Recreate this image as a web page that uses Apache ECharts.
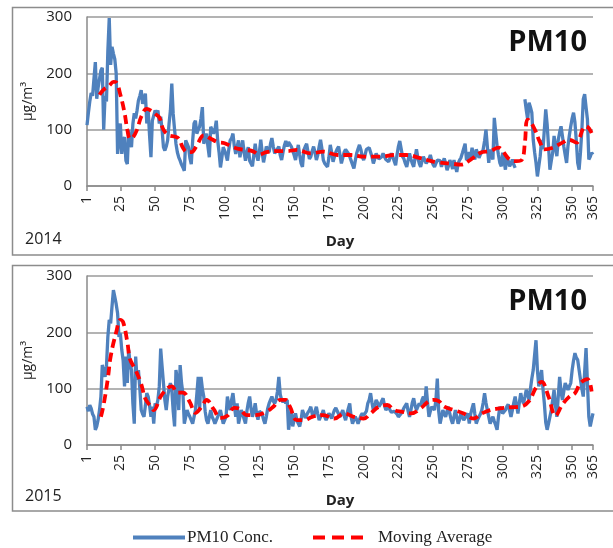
<!DOCTYPE html>
<html><head><meta charset="utf-8">
<script src="https://cdn.jsdelivr.net/npm/echarts@6/dist/echarts.min.js"></script>
<style>html,body{margin:0;padding:0;background:#fff}#c{width:613px;height:548px}</style>
</head><body><div id="c"></div>
<script>
// Daily PM10 concentrations (µg/m³), day 1..365
const pm2014 = [
108,130,150,165,160,190,220,155,175,190,205,210,100,160,150,240,298,215,247,235,225,200,57,81,111,
57,80,87,45,39,99,80,69,110,129,120,134,152,160,170,146,155,164,111,134,90,51,116,125,134,
130,134,111,123,100,69,63,70,81,110,134,182,128,100,75,60,51,45,38,33,27,81,75,69,50,
39,80,111,116,93,100,105,120,140,75,85,93,70,51,105,100,93,100,116,81,60,33,50,69,63,
55,45,65,81,85,93,70,57,70,81,51,65,81,60,45,60,69,45,40,35,33,75,55,45,60,
82,60,42,55,70,65,60,75,85,70,58,62,66,70,55,46,60,72,80,70,78,74,70,62,55,
46,60,73,55,40,34,64,70,75,60,48,52,62,70,60,46,55,70,82,66,46,40,38,34,50,
73,60,43,52,60,66,70,55,40,50,60,65,62,58,52,45,38,31,45,58,66,73,65,52,46,
55,65,66,68,66,52,40,48,58,52,48,46,52,58,52,47,44,43,50,58,52,44,37,55,70,
80,66,52,48,40,34,46,58,48,40,34,50,65,50,40,34,44,52,46,40,38,48,55,45,38,
34,40,46,49,45,34,42,49,40,28,35,46,40,30,46,35,25,40,46,50,58,55,75,46,50,
60,50,68,55,47,65,58,50,56,60,65,80,100,70,41,65,55,47,121,95,71,55,41,35,59,
45,29,53,45,35,40,47,38,32,null,null,null,null,null,null,154,135,118,148,140,130,82,60,41,17,
35,53,82,65,100,136,110,71,29,45,59,89,70,53,82,95,106,89,70,55,41,71,90,106,120,
130,113,80,41,29,60,100,154,163,140,118,47,52,59,56
];
const pm2015 = [
68,60,71,65,55,50,27,33,45,62,86,142,133,121,140,192,222,216,246,275,263,250,234,192,198,
169,150,104,157,110,169,145,133,74,38,157,116,133,100,62,55,50,70,92,86,70,50,68,38,74,
68,80,104,171,140,110,80,62,86,100,110,98,60,33,133,116,62,142,110,92,38,50,62,55,50,
44,38,50,62,90,121,62,121,100,86,60,44,38,50,62,50,45,38,40,50,56,62,50,38,44,
50,86,70,62,80,92,70,50,74,38,50,62,55,46,38,60,75,86,65,50,60,74,55,45,60,
62,55,45,38,50,65,74,80,86,78,74,80,95,121,90,80,76,80,74,80,27,45,62,33,45,
56,44,38,33,45,62,55,48,50,58,62,68,55,50,60,68,55,44,50,55,62,50,44,50,56,
52,47,55,62,66,68,55,50,56,62,52,44,55,65,74,50,38,45,50,45,38,45,52,56,52,
50,60,74,80,92,75,62,70,80,75,68,72,78,83,70,62,65,68,62,58,56,60,62,55,50,
52,56,60,66,70,74,60,50,62,75,83,70,62,68,74,70,80,86,70,104,75,50,60,68,65,
62,80,118,60,38,50,62,55,50,60,68,55,45,38,50,62,50,38,45,56,50,44,48,52,56,
38,55,65,74,55,38,45,50,55,62,75,92,75,62,50,38,45,50,42,35,27,50,68,62,56,
56,62,68,72,74,50,62,75,86,70,56,75,92,80,74,85,98,90,80,100,118,133,160,186,133,
104,120,133,100,74,40,27,38,50,62,80,98,70,50,86,121,95,80,95,110,104,98,104,110,133,
150,163,155,151,133,116,100,86,130,172,110,50,33,45,56
];
// Moving average read at selected days
const maDays2014 = [10,13,17,20,22,25,28,30,32,34,37,40,44,47,50,53,56,60,64,67,70,73,76,80,85,90,95,100,105,110,115,120,125,130,137,145,152,162,171,181,191,200,212,222,231,240,246,253,262,270,277,284,291,297,300,305,310,314,316,318,322,327,330,336,343,348,353,358,360,364];
const ma2014 =     [162,171,178,185,184,162,130,100,84,86,100,123,137,134,128,122,100,90,88,84,68,60,60,72,90,84,78,76,70,66,64,62,56,60,62,62,64,58,61,55,55,52,52,55,55,50,46,42,40,38,47,59,62,68,62,47,44,47,77,118,106,77,65,68,77,82,77,103,106,94];
const maDays2015 = [11,13,16,18,22,25,27,30,32,36,40,43,47,49,54,59,62,66,70,75,79,84,87,92,97,102,107,111,116,122,130,135,140,144,147,152,157,163,171,179,186,193,200,205,211,217,222,228,234,241,246,250,254,258,265,272,279,285,291,298,306,313,319,324,328,333,338,343,348,352,356,361,364];
const ma2015 =     [50,72,118,157,200,222,218,183,152,133,108,82,68,62,86,101,104,93,93,76,57,70,80,64,48,52,66,64,53,53,59,68,80,80,68,44,44,50,53,47,56,50,47,56,68,71,62,59,56,65,76,80,78,68,62,56,47,56,62,65,67,68,78,102,112,86,52,72,86,92,110,117,95];
const xTicks = [1,25,50,75,100,125,150,175,200,225,250,275,300,325,350,365];
const yearLabels = ['2014','2015'];
const panelTitle = 'PM10';
const seriesNames = ['PM10 Conc.','Moving Average'];

const toPts = arr => arr.map((v,i)=>[i+1, v==null ? '-' : v]);
const pairs = (d,v) => d.map((x,i)=>[x, v[i]]);

const F = 'Open Sans';
const tops = [17, 276];
const grids = tops.map(t=>({left:87, width:506, top:t, height:169}));
const xAxes = tops.map((t,i)=>({
  gridIndex:i, type:'value', min:1, max:365,
  name:'Day', nameLocation:'middle', nameGap:48,
  nameTextStyle:{fontFamily:F, fontSize:15, fontWeight:'bold', color:'#222'},
  axisLine:{lineStyle:{color:'#8a8a8a', width:1.5}},
  axisTick:{show:true, length:5, lineStyle:{color:'#8a8a8a', width:1.5}, customValues:xTicks},
  axisLabel:{rotate:90, margin:10, fontFamily:F, fontSize:14, color:'#222', customValues:xTicks},
  splitLine:{show:false}
}));
const yAxes = tops.map((t,i)=>({
  gridIndex:i, type:'value', min:0, max:300, interval:100,
  name:'µg/m³', nameLocation:'middle', nameGap:52, nameRotate:90,
  nameTextStyle:{fontFamily:F, fontSize:14, color:'#222'},
  axisLine:{show:true, lineStyle:{color:'#8a8a8a', width:1.5}},
  axisTick:{show:false},
  axisLabel:{margin:15, fontFamily:F, fontSize:15, color:'#222'},
  splitLine:{lineStyle:{color:'#9a9a9a', width:1.5}}
}));
const blue = '#4f81bd', red = '#ff0000';
const series = [];
[[pm2014, maDays2014, ma2014],[pm2015, maDays2015, ma2015]].forEach((s,i)=>{
  series.push({type:'line', name:seriesNames[0], xAxisIndex:i, yAxisIndex:i, data:toPts(s[0]),
    symbol:'none', connectNulls:false, lineStyle:{color:blue, width:3.3}, itemStyle:{color:blue}, z:2});
  series.push({type:'line', name:seriesNames[1], xAxisIndex:i, yAxisIndex:i, data:pairs(s[1],s[2]),
    symbol:'none', smooth:0.4, lineStyle:{color:red, width:3.8, type:[9,5]}, itemStyle:{color:red}, z:3});
});
const chart = echarts.init(document.getElementById('c'), null, {renderer:'canvas'});
chart.setOption({
  animation:false,
  backgroundColor:'#fff',
  grid:grids, xAxis:xAxes, yAxis:yAxes, series:series,
  legend:[
    {left:128, top:524, data:[{name:seriesNames[0], icon:'path://M0,0H52V4H0Z'}], itemWidth:52, itemHeight:4,
     textStyle:{fontFamily:'Liberation Serif', fontSize:17, color:'#222', padding:[0,0,0,-3]}},
    {left:308, top:524, data:[{name:seriesNames[1], icon:'path://M0,0H12V4H0Z M19,0H31V4H19Z M38,0H50V4H38Z'}], itemWidth:50, itemHeight:4,
     textStyle:{fontFamily:'Liberation Serif', fontSize:17, color:'#222', padding:[0,0,0,10]}}
  ],
  graphic:[
    {type:'rect', shape:{x:12.5, y:7.5, width:610, height:247.5}, style:{fill:null, stroke:'#8c8c8c', lineWidth:1.5}, silent:true},
    {type:'rect', shape:{x:12.5, y:265.5, width:610, height:245.5}, style:{fill:null, stroke:'#8c8c8c', lineWidth:1.5}, silent:true},
    {type:'text', left:25, top:231, style:{text:yearLabels[0], font:'16px "Open Sans"', fill:'#222'}},
    {type:'text', left:25, top:488, style:{text:yearLabels[1], font:'16px "Open Sans"', fill:'#222'}},
    {type:'text', right:26, top:28, style:{text:panelTitle, font:'bold 29px "Open Sans"', fill:'#111'}},
    {type:'text', right:26, top:287, style:{text:panelTitle, font:'bold 29px "Open Sans"', fill:'#111'}}
  ]
});
</script></body></html>
